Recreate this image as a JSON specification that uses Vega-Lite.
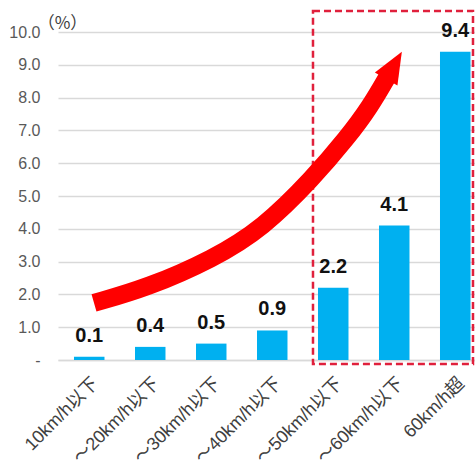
{
  "$schema": "https://vega.github.io/schema/vega-lite/v6.json",
  "width": 417,
  "height": 328,
  "autosize": {"type": "none"},
  "padding": {"left": 58, "top": 32, "right": 0, "bottom": 106},
  "background": "white",
  "config": {
    "view": {"stroke": null},
    "font": "Liberation Sans",
    "axisY": {
      "tickCount": 10,
      "labelOverlap": false,
      "labelExpr": "datum.value == 0 ? '-' : format(datum.value, '.1f')",
      "labelFontSize": 16,
      "labelColor": "#595959",
      "labelPadding": 18,
      "ticks": false,
      "domain": false,
      "gridColor": "#d9d9d9",
      "gridWidth": 1.5,
      "titleAngle": 0,
      "titleAlign": "center",
      "titleBaseline": "alphabetic",
      "titleX": 4,
      "titleY": -4,
      "titleFont": "Noto Sans CJK JP",
      "titleFontSize": 17,
      "titleFontWeight": "normal",
      "titleColor": "#404040"
    }
  },
  "datasets": {
    "speed": [
      {"band": "10km/h以下", "pct": 0.1},
      {"band": "～20km/h以下", "pct": 0.4},
      {"band": "～30km/h以下", "pct": 0.5},
      {"band": "～40km/h以下", "pct": 0.9},
      {"band": "～50km/h以下", "pct": 2.2},
      {"band": "～60km/h以下", "pct": 4.1},
      {"band": "60km/h超", "pct": 9.4}
    ],
    "box": [
      {"from": "～50km/h以下", "to": "60km/h超", "top": 10.64, "bottom": -0.12}
    ],
    "arrow": [
      {"i": 0.078, "v": 1.74},
      {"i": 0.947, "v": 2.2},
      {"i": 2.029, "v": 3.08},
      {"i": 2.848, "v": 4.02},
      {"i": 3.668, "v": 5.55},
      {"i": 4.225, "v": 6.77},
      {"i": 4.602, "v": 7.71},
      {"i": 4.914, "v": 8.72}
    ],
    "arrowhead": [
      {"i": 4.996, "v": 8.98}
    ]
  },
  "layer": [
    {
      "layer": [
        {
          "data": {"name": "speed"},
          "mark": {"type": "bar", "color": "#00b0f0"},
          "encoding": {
            "x": {
              "field": "band",
              "type": "nominal",
              "scale": {
                "domain": ["10km/h以下", "～20km/h以下", "～30km/h以下", "～40km/h以下", "～50km/h以下", "～60km/h以下", "60km/h超"],
                "paddingInner": 0.5,
                "paddingOuter": 0.168,
                "align": 0.78
              },
              "axis": {
                "title": null,
                "labelAngle": -45,
                "labelFontSize": 18,
                "labelFont": "Liberation Sans, Noto Sans CJK JP",
                "labelColor": "#404040",
                "labelPadding": 14,
                "ticks": false,
                "domainColor": "#d9d9d9",
                "domainWidth": 1.5
              }
            },
            "y": {
              "field": "pct",
              "type": "quantitative",
              "scale": {"domain": [0, 10], "nice": false},
              "axis": {"title": "（%）"}
            }
          }
        },
        {
          "data": {"name": "speed"},
          "mark": {"type": "text", "dy": -15, "baseline": "alphabetic", "fontSize": 20, "fontWeight": "bold", "color": "#111111"},
          "encoding": {
            "x": {"field": "band", "type": "nominal"},
            "y": {"field": "pct", "type": "quantitative", "scale": {"domain": [0, 10], "nice": false}},
            "text": {"field": "pct", "type": "quantitative", "format": ".1f"}
          }
        },
        {
          "data": {"name": "box"},
          "mark": {"type": "rect", "filled": false, "stroke": "#e0203c", "strokeWidth": 2.5, "strokeDash": [7, 4], "xOffset": -5, "x2Offset": 2.5},
          "encoding": {
            "x": {"field": "from", "type": "nominal", "bandPosition": 0},
            "x2": {"field": "to", "bandPosition": 1},
            "y": {"field": "top", "type": "quantitative", "scale": {"domain": [0, 10], "nice": false}},
            "y2": {"field": "bottom"}
          }
        }
      ]
    },
    {
      "layer": [
        {
          "data": {"name": "arrow"},
          "mark": {"type": "line", "color": "#ff0000", "strokeWidth": 18, "strokeCap": "butt", "interpolate": "basis"},
          "encoding": {
            "x": {"field": "i", "type": "quantitative", "scale": {"domain": [-0.512, 6.324], "nice": false, "zero": false}, "axis": null},
            "y": {"field": "v", "type": "quantitative", "scale": {"domain": [0, 10], "nice": false}}
          }
        },
        {
          "data": {"name": "arrowhead"},
          "mark": {"type": "point", "shape": "M0,-1L0.83,1L-0.83,1Z", "filled": true, "color": "#ff0000", "opacity": 1, "size": 986, "angle": 30, "strokeWidth": 0},
          "encoding": {
            "x": {"field": "i", "type": "quantitative"},
            "y": {"field": "v", "type": "quantitative", "scale": {"domain": [0, 10], "nice": false}}
          }
        }
      ]
    }
  ],
  "resolve": {"scale": {"x": "independent"}}
}
